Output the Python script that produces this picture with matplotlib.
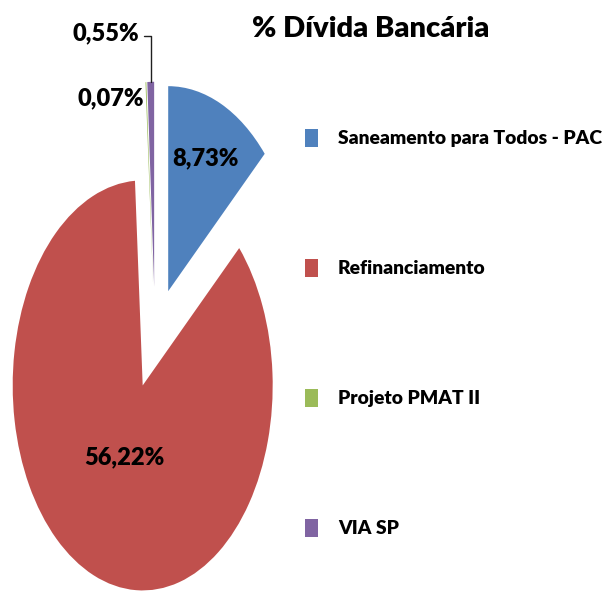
import numpy as np
import matplotlib
matplotlib.use("Agg")
import matplotlib.pyplot as plt

plt.rcParams['font.family'] = ['Lato', 'DejaVu Sans']
plt.rcParams['font.weight'] = 'heavy'

# data
categories = ['Saneamento para Todos - PAC', 'Refinanciamento', 'Projeto PMAT II', 'VIA SP']
values = [8.73, 56.22, 0.07, 0.55]
value_labels = ['8,73%', '56,22%', '0,07%', '0,55%']
colors = ['#4F81BD', '#C0504D', '#9BBB59', '#8064A2']

W, H = 608, 591
fig = plt.figure(figsize=(W / 100, H / 100), dpi=100)
ax = fig.add_axes([0, 0, 1, 1])

wedges, _ = ax.pie(values, colors=colors, startangle=90, counterclock=False,
                   explode=[0.25] * len(values), radius=1.0)

# the original picture is squeezed sideways, so the pie is an ellipse
cx, cy = 155, 338      # pie centre in pixels
rx, ry = 130, 205      # radii in pixels
ax.set_aspect('auto')
ax.set_xlim(-cx / rx, (W - cx) / rx)
ax.set_ylim(-(H - cy) / ry, cy / ry)
ax.axis('off')


def wedge_point(w, dist):
    mid = np.deg2rad((w.theta1 + w.theta2) / 2)
    x0, y0 = w.center
    return x0 + dist * w.r * np.cos(mid), y0 + dist * w.r * np.sin(mid)


lab_fs = 17

# labels inside the two big slices
for w, txt, d in zip(wedges[:2], value_labels[:2], [0.71, 0.38]):
    ax.text(*wedge_point(w, d), txt, ha='center', va='center', fontsize=lab_fs)

# small slices
ax.annotate(value_labels[2], xy=wedge_point(wedges[2], 0.92), xytext=(-2, 0),
            textcoords='offset pixels', ha='right', va='center', fontsize=lab_fs)
ax.annotate(value_labels[3], xy=wedge_point(wedges[3], 1.0), xytext=(-12, 49),
            textcoords='offset pixels', ha='right', va='center', fontsize=lab_fs,
            arrowprops=dict(arrowstyle='-', color='#202020', lw=1,
                            connectionstyle='angle,angleA=0,angleB=90,rad=0',
                            relpos=(1, 0.35), shrinkA=2, shrinkB=0))

fig.text(371 / W, 1 - 37 / H, '% Dívida Bancária', ha='center', va='baseline',
         fontsize=21)

leg_fs = 13.9
fs_px = leg_fs * 100 / 72
leg = ax.legend(wedges, categories, loc='upper left',
                bbox_to_anchor=(305 / W, 1 - 129 / H), bbox_transform=fig.transFigure,
                frameon=False, fontsize=leg_fs, handlelength=13 / fs_px,
                handleheight=20 / fs_px, handletextpad=20 / fs_px,
                labelspacing=111.5 / fs_px, borderpad=0, borderaxespad=0)

fig.savefig('out.png', dpi=100)
